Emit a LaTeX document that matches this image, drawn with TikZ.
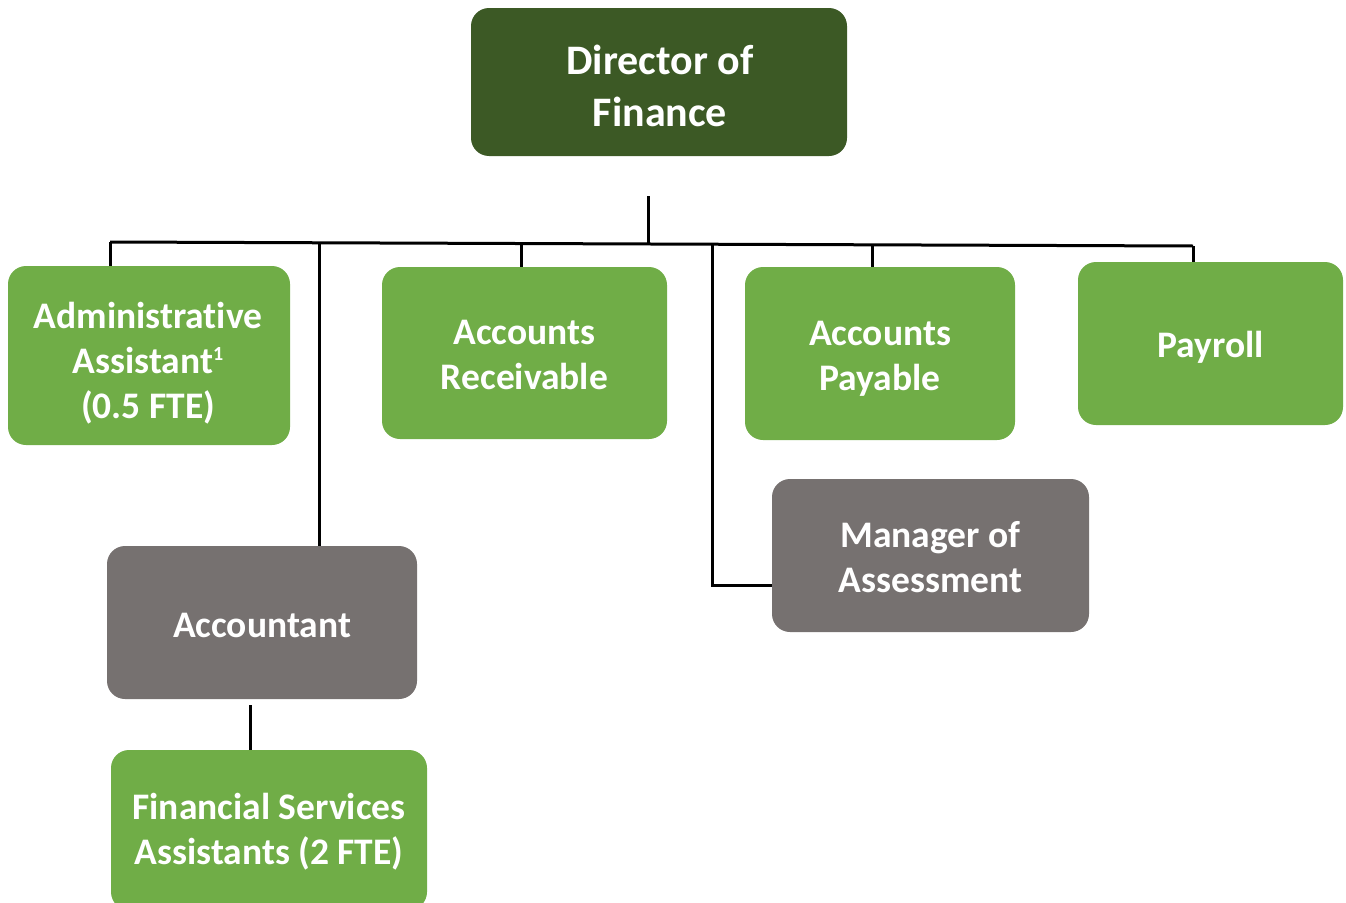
\documentclass[tikz,border=0pt]{standalone}
\usepackage{fontspec}
\setmainfont{Carlito}[Ligatures=NoCommon]
\definecolor{darkgr}{RGB}{60,89,37}
\definecolor{litegr}{RGB}{112,173,71}
\definecolor{greybox}{RGB}{118,113,112}
\newcommand{\mysup}[1]{\raisebox{13pt}{\fontsize{20}{20}\selectfont #1}}
\tikzset{
  box/.style={rounded corners=18pt, inner sep=0pt},
  boss/.style={box, fill=darkgr},
  unit/.style={box, fill=litegr},
  mgr/.style={box, fill=greybox},
  txt/.style={text=white, align=center, inner sep=0pt,
    font=\bfseries\fontsize{37.5}{45}\selectfont},
  bigtxt/.style={txt, font=\bfseries\fontsize{42}{52}\selectfont},
  link/.style={draw=black, line width=3pt}
}
\begin{document}
\begin{tikzpicture}[x=1pt,y=-1pt]
\useasboundingbox (0,0) rectangle (1346,902);
\node[boss, minimum width=376pt, minimum height=148pt] (dir) at (659,82) {};
\node[unit, minimum width=282pt, minimum height=179pt] (adm) at (149,355.5) {};
\node[unit, minimum width=285pt, minimum height=172pt] (ar) at (524.5,353) {};
\node[unit, minimum width=270pt, minimum height=173pt] (ap) at (880,353.5) {};
\node[unit, minimum width=265pt, minimum height=163pt] (pay) at (1210.5,343.5) {};
\node[mgr, minimum width=317pt, minimum height=153pt] (mas) at (930.5,555.5) {};
\node[mgr, minimum width=310pt, minimum height=153pt] (acc) at (262,622.5) {};
\node[unit, minimum width=316pt, minimum height=160pt] (fsa) at (269,830) {};
% labels
\node[bigtxt] (dirT) at ([xshift=1pt,yshift=-3.5pt]dir.center) {Director of\\Finance};
\node[txt] (admT) at ([xshift=-1pt,yshift=-8pt]adm.center) {Administrative\\Assistant\mysup{1}\\(0.5 FTE)};
\node[txt] (arT) at ([yshift=-2pt]ar.center) {Accounts\\Receivable};
\node[txt] (apT) at ([yshift=-5pt]ap.center) {Accounts\\Payable};
\node[txt] (payT) at ([yshift=-4pt]pay.center) {Payroll};
\node[txt] (masT) at ([yshift=-1.5pt]mas.center) {Manager of\\Assessment};
\node[txt] (accT) at ([yshift=-3pt]acc.center) {Accountant};
\node[txt] (fsaT) at ([yshift=-1.5pt]fsa.center) {Financial Services\\Assistants (2 FTE)};
% connectors
\coordinate (stem) at (648,196);
\coordinate (stemb) at (648,242.5);
\coordinate (bl) at (110,242);
\coordinate (br) at (1193,246);
\coordinate (accb) at (319,242);
\coordinate (arb) at (521,243);
\coordinate (masb) at (712,243.5);
\coordinate (masc) at (712,585);
\coordinate (apb) at (872,245);
\coordinate (accs) at (250,705);
\draw[link] (stem) -- (stemb);
\draw[link] (bl) -- (br);
\draw[link] (bl) -- (adm.north -| bl);
\draw[link] (arb) -- (ar.north -| arb);
\draw[link] (apb) -- (ap.north -| apb);
\draw[link] (br) -- (pay.north -| br);
\draw[link] (accb) -- (acc.north -| accb);
\draw[link] (masb) -- (masc) -- (masc -| mas.west);
\draw[link] (accs) -- (fsa.north -| accs);
\end{tikzpicture}
\end{document}
